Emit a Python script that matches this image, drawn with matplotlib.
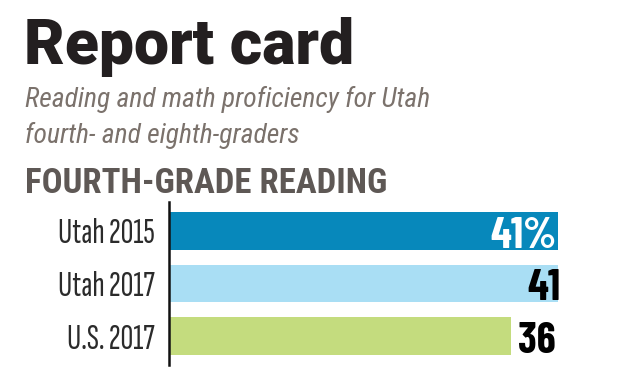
import matplotlib.pyplot as plt

# data
categories = ["Utah 2015", "Utah 2017", "U.S. 2017"]
values = [41, 41, 36]
value_labels = ["41%", "41", "36"]
colors = ["#0788bb", "#a9def4", "#c4dc7e"]
label_colors = ["white", "black", "black"]

W, H = 620, 370
fig = plt.figure(figsize=(6.2, 3.7), dpi=100)
fig.patch.set_facecolor("white")

# header text (positions in pixels from the top-left)
def px(x, y):
    return x / W, 1 - y / H

fig.text(*px(24, 64), "Report card", fontsize=45, fontweight="heavy",
         family=["Roboto", "DejaVu Sans"], color="#231f20", va="baseline")
fig.text(*px(25, 107), "Reading and math proficiency for Utah", fontsize=19.9,
         style="italic", family=["Roboto Condensed", "DejaVu Sans"], color="#7b726c", va="baseline")
fig.text(*px(25, 143), "fourth- and eighth-graders", fontsize=19.9,
         style="italic", family=["Roboto Condensed", "DejaVu Sans"], color="#7b726c", va="baseline")
fig.text(*px(25, 193), "FOURTH-GRADE READING", fontsize=25, fontweight="bold",
         family=["Roboto Condensed", "DejaVu Sans"], color="#5e5855", va="baseline")

ax = fig.add_axes([169 / W, 5 / H, 451 / W, 163 / H])
y = list(range(len(categories)))
ax.barh(y, values, height=0.72, color=colors)
ax.set_xlim(0, 47.5)
ax.set_ylim(2.552, -0.552)

for i, v in enumerate(values):
    if v == max(values):
        dx, ha = (-1.5 if i == 0 else 1.5), "right"
    else:
        dx, ha = 5, "left"
    ax.annotate(value_labels[i], (v, i), xytext=(dx, -12), textcoords="offset points",
                ha=ha, va="baseline", fontsize=31, fontweight="bold",
                family=["Barlow Condensed", "DejaVu Sans"], color=label_colors[i])

ax.set_yticks(y)
ax.set_yticklabels(categories, fontsize=25.5,
                   family=["Sofia Sans Extra Condensed", "DejaVu Sans"], color="#2b2b2b")
ax.tick_params(axis="y", length=0, pad=10)
ax.set_xticks([])
for s in ["top", "right", "bottom"]:
    ax.spines[s].set_visible(False)
ax.spines["left"].set_linewidth(1.8)
ax.spines["left"].set_color("#111111")

fig.savefig("out.png", dpi=100, facecolor="white")
